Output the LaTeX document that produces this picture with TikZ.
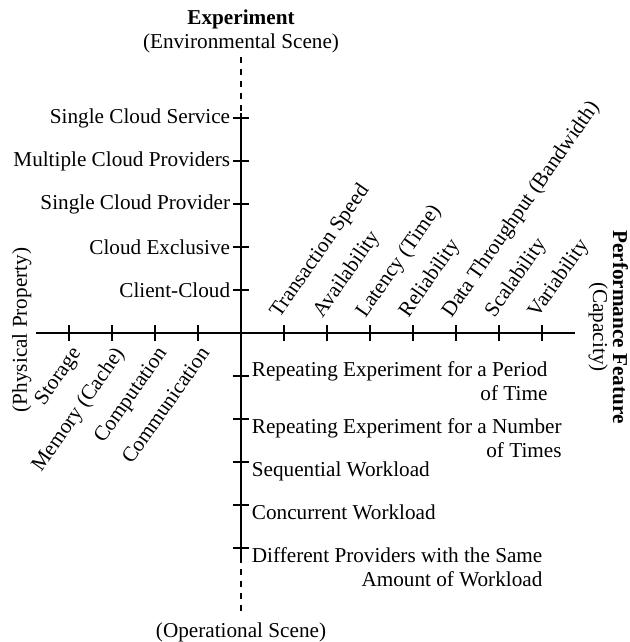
\documentclass[tikz,border=0pt]{standalone}
\usepackage{fontspec}
\setmainfont{Liberation Serif}
\usetikzlibrary{calc}

\begin{document}
\begin{tikzpicture}[x=21.5pt,y=21.5pt,line width=0.9pt,
    every node/.style={font=\fontsize{10.6}{12}\selectfont},
    featlbl/.style={rotate=55,anchor=south west,inner sep=1pt},
    proplbl/.style={rotate=55,anchor=north east,inner sep=1pt},
    envlbl/.style={anchor=east,inner sep=1pt},
    oplbl/.style={anchor=north west,inner sep=1pt,align=right,yshift=1.5pt}]
    \useasboundingbox (-5.605,-7.186) rectangle (9.023,7.744);

    % ends of the axes
    \coordinate (o) at (0,0);
    \coordinate (west) at (-4.77,0);
    \coordinate (east) at (7.77,0);
    \coordinate (north) at (0,6.42);
    \coordinate (ntop) at (0,5.12);
    \coordinate (sbot) at (0,-5.2);
    \coordinate (south) at (0,-6.49);

    % axes
    \draw (west) -- (east);
    \draw (ntop) -- (sbot);
    \draw[dashed] (north) -- (ntop);
    \draw[dashed] (sbot) -- (south);

    % axis titles
    \node[anchor=south,align=center,yshift=-2pt] (exp) at (north) {\textbf{Experiment}\\(Environmental Scene)};
    \node[anchor=north,yshift=-1.5pt] (oper) at (south) {(Operational Scene)};
    \node[rotate=-90,align=center] (perf) at (8.54,0.14) {\textbf{Performance Feature}\\[-2pt](Capacity)};
    \node[rotate=90] (phys) at (-5.1,0.07) {(Physical Property)};

    % ticks
    \foreach \i in {-4,...,-1,1,2,...,7}
        \draw (\i,-0.186) -- (\i,0.186);
    \foreach \j in {-5,...,-1,1,2,...,5}
        \draw (-0.186,\j) -- (0.186,\j);

    % environmental scene
    \foreach \t [count=\i] in {Client-Cloud,Cloud Exclusive,Single Cloud Provider,Multiple Cloud Providers,Single Cloud Service}
        \node[envlbl] (env\i) at (-0.186,\i) {\t};

    % performance feature
    \foreach \t [count=\i] in {Transaction Speed,Availability,Latency (Time),Reliability,Data Throughput (Bandwidth),Scalability,Variability}
        \node[featlbl] (feat\i) at (\i,0.186) {\t};

    % physical property
    \foreach \t [count=\i] in {Communication,Computation,Memory (Cache),Storage}
        \node[proplbl] (prop\i) at (-\i,-0.186) {\t};

    % operational scene
    \node[oplbl,yshift=7pt] (op1) at (0.186,-1) {Repeating Experiment for a Period\\of Time};
    \node[oplbl] (op2) at (0.186,-2) {Repeating Experiment for a Number\\of Times};
    \node[oplbl] (op3) at (0.186,-3) {Sequential Workload};
    \node[oplbl] (op4) at (0.186,-4) {Concurrent Workload};
    \node[oplbl] (op5) at (0.186,-5) {Different Providers with the Same\\Amount of Workload};
\end{tikzpicture}
\end{document}
